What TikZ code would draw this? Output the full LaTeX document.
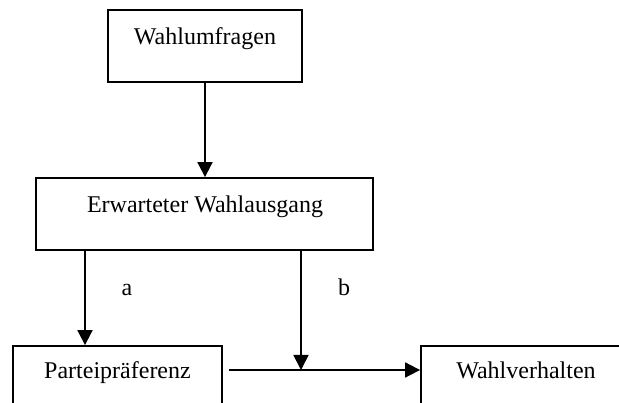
\documentclass[tikz,border=0pt]{standalone}
\usepackage{fontspec}
\setmainfont{Liberation Serif}
\usetikzlibrary{arrows.meta}
\begin{document}
\begin{tikzpicture}[x=1pt,y=-1pt,
  boxnode/.style={draw=black,line width=1.8pt,rectangle,inner sep=0pt},
  txt/.style={inner sep=0pt,anchor=base,font=\fontsize{24}{28}\selectfont},
  arr/.style={line width=1.8pt,-{Triangle[width=15pt,length=15pt]}}]
\useasboundingbox (0,0) rectangle (619,403);
\clip (0,0) rectangle (619,403);
\fill[white] (0,0) rectangle (619,403);
% boxes
\node[boxnode,minimum width=194pt,minimum height=72pt] (wu) at (205,46) {};
\node[boxnode,minimum width=337pt,minimum height=72pt] (ew) at (204.5,214) {};
\node[boxnode,minimum width=209pt,minimum height=84pt] (pp) at (117.5,388) {};
\node[boxnode,minimum width=279pt,minimum height=84pt] (wv) at (560.5,388) {};
% texts
\node[txt] (wut) at (205,45) {Wahlumfragen};
\node[txt] (ewt) at (205,213) {Erwarteter Wahlausgang};
\node[txt] (ppt) at (117.5,379) {Parteipräferenz};
\node[txt] (wvt) at (526,379) {Wahlverhalten};
\node[txt] (la) at (127,296) {a};
\node[txt] (lb) at (344,296) {b};
% connectors
\coordinate (ax) at (85,0);
\coordinate (j) at (301,370);
\draw[arr] (wu.south) -- (ew.north -| wu.south);
\draw[arr] (ew.south -| ax) -- (pp.north -| ax);
\draw[arr] (ew.south -| j) -- (j);
\draw[arr] ([xshift=6pt]pp.east |- j) -- (wv.west |- j);
\end{tikzpicture}
\end{document}
